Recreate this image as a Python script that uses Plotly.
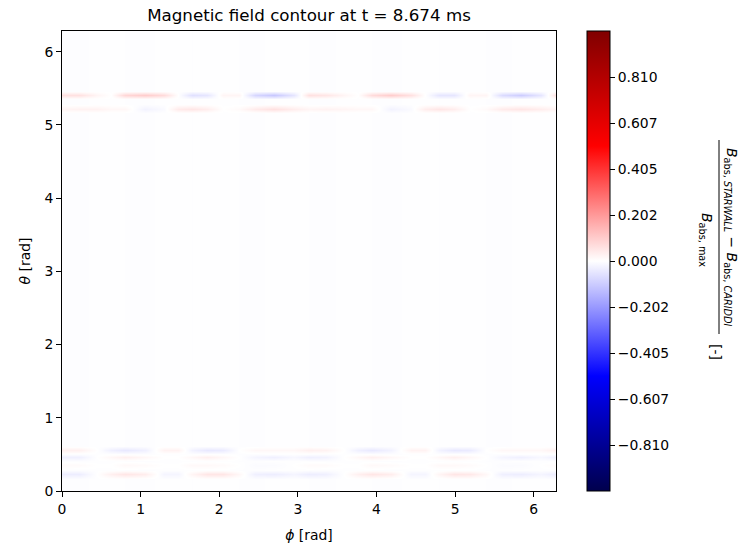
import plotly.graph_objects as go

# --- data ---
phi = [0.00, 0.22, 0.45, 0.62, 0.80, 1.05, 1.30, 1.48, 1.65, 1.85,
       2.05, 2.25, 2.45, 2.70, 2.95, 3.14, 3.36, 3.59, 3.76, 3.94,
       4.19, 4.44, 4.62, 4.79, 4.99, 5.19, 5.39, 5.59, 5.84, 6.09, 6.28]

bg = [-0.003, -0.004, -0.002, -0.002, -0.003, -0.004, -0.002, -0.002, -0.003, -0.002,
      -0.002, -0.003, -0.004, -0.002, -0.002, -0.003, -0.004, -0.002, -0.002, -0.003,
      -0.004, -0.002, -0.002, -0.003, -0.002, -0.002, -0.003, -0.004, -0.002, -0.002, -0.003]

band_541 = [0.06, 0.06, 0.02, 0.00, 0.08, 0.10, 0.07, 0.00, -0.06, -0.05,
            0.02, 0.02, -0.08, -0.11, -0.05, 0.06, 0.05, 0.02, 0.00, 0.07,
            0.10, 0.06, 0.00, -0.05, -0.05, 0.02, 0.02, -0.07, -0.10, -0.05, 0.06]

band_522 = [0.02, 0.025, 0.025, 0.015, 0.015, -0.025, -0.01, 0.04, 0.05, 0.035,
            0.00, 0.01, 0.04, 0.06, 0.035, 0.02, 0.025, 0.02, 0.015, 0.015,
            -0.025, -0.01, 0.035, 0.05, 0.035, 0.00, 0.01, 0.04, 0.05, 0.035, 0.02]

band_056 = [0.03, 0.03, 0.00, -0.03, -0.045, -0.03, 0.025, 0.025, -0.025, -0.045,
            -0.04, 0.00, 0.015, 0.015, 0.015, 0.03, 0.025, 0.00, -0.03, -0.045,
            -0.025, 0.025, 0.025, -0.025, -0.045, -0.04, 0.00, 0.015, 0.015, 0.015, 0.03]

band_046 = [-0.03, -0.03, 0.00, 0.015, 0.03, 0.015, 0.00, 0.00, 0.015, 0.03,
            0.015, 0.00, -0.02, -0.03, -0.015, -0.03, -0.025, 0.00, 0.015, 0.03,
            0.015, 0.00, 0.00, 0.015, 0.03, 0.015, 0.00, -0.02, -0.03, -0.015, -0.03]

band_036 = [0.008, 0.008, 0.00, 0.00, 0.012, 0.008, 0.00, 0.00, 0.012, 0.012,
            0.008, 0.00, -0.008, -0.008, 0.00, 0.008, 0.008, 0.00, 0.00, 0.012,
            0.008, 0.00, 0.00, 0.012, 0.012, 0.008, 0.00, -0.008, -0.008, 0.00, 0.008]

band_023 = [-0.035, -0.035, 0.00, 0.03, 0.05, 0.035, -0.02, -0.02, 0.02, 0.05,
            0.05, 0.015, -0.03, -0.035, -0.02, -0.035, -0.03, 0.00, 0.03, 0.05,
            0.035, -0.02, -0.02, 0.02, 0.05, 0.045, 0.015, -0.03, -0.035, -0.02, -0.035]

theta = [0.00, 0.17, 0.23, 0.29, 0.36, 0.41, 0.46, 0.51, 0.56, 0.62,
         1.20, 3.10, 5.05, 5.16, 5.22, 5.28, 5.35, 5.41, 5.47, 5.60, 6.28]
rows = [bg, bg, band_023, bg, band_036, bg, band_046, bg, band_056, bg,
        bg, bg, bg, bg, band_522, bg, bg, band_541, bg, bg, bg]

cbar_ticks = [-0.81, -0.6075, -0.405, -0.2025, 0.0, 0.2025, 0.405, 0.6075, 0.81]
cbar_text = ["−0.810", "−0.607", "−0.405", "−0.202", "0.000", "0.202", "0.405", "0.607", "0.810"]
xticks = [0, 1, 2, 3, 4, 5, 6]
yticks = [0, 1, 2, 3, 4, 5, 6]
ZMAX = 1.0125
TWO_PI = 6.283185307

seismic = [[0.0, "rgb(0,0,77)"], [0.25, "rgb(0,0,255)"], [0.5, "rgb(255,255,255)"],
           [0.75, "rgb(255,0,0)"], [1.0, "rgb(128,0,0)"]]

FONT = "DejaVu Sans"
W, H = 741, 554
L, R, T, B = 62, 185, 31, 63
pw, ph = W - L - R, H - T - B

def px(x):
    return (x - L) / pw

def py(y):
    return (H - B - y) / ph

fig = go.Figure(go.Heatmap(
    x=phi, y=theta, z=rows, zsmooth="best",
    colorscale=seismic, zmin=-ZMAX, zmax=ZMAX,
    colorbar=dict(
        x=px(587), xanchor="left", y=0.5, yanchor="middle",
        len=1.0, lenmode="fraction", thickness=23, thicknessmode="pixels",
        xpad=0, ypad=0, outlinewidth=1, outlinecolor="black",
        tickvals=cbar_ticks, ticktext=cbar_text, ticks="outside", ticklen=5,
        tickwidth=1, tickcolor="black",
        tickfont=dict(family=FONT, size=13.9, color="black"),
    ),
    hoverinfo="skip",
))

axis_common = dict(
    showline=True, linecolor="black", linewidth=1, mirror=True,
    ticks="outside", ticklen=5, tickwidth=1, tickcolor="black",
    showgrid=False, zeroline=False,
    tickfont=dict(family=FONT, size=13.9, color="black"),
)

fig.update_xaxes(range=[0, TWO_PI], tickvals=xticks, **axis_common,
                 title=dict(text="<i>ϕ</i> [rad]", font=dict(family=FONT, size=13.9, color="black"), standoff=14))
fig.update_yaxes(range=[0, TWO_PI], tickvals=yticks, **axis_common,
                 title=dict(text="<i>θ</i> [rad]", font=dict(family=FONT, size=13.9, color="black"), standoff=10))

lab_font = dict(family=FONT, size=13.9, color="black")
annotations = [
    dict(text="<i>B</i><sub>abs, <i>STARWALL</i></sub> − <i>B</i><sub>abs, <i>CARIDDI</i></sub>",
         x=px(731), y=py(237), xref="paper", yref="paper", textangle=90,
         showarrow=False, font=lab_font, xanchor="center", yanchor="middle"),
    dict(text="<i>B</i><sub>abs, max</sub>",
         x=px(706), y=py(240), xref="paper", yref="paper", textangle=90,
         showarrow=False, font=lab_font, xanchor="center", yanchor="middle"),
    dict(text="[-]",
         x=px(716), y=py(352), xref="paper", yref="paper", textangle=90,
         showarrow=False, font=lab_font, xanchor="center", yanchor="middle"),
]

fig.update_layout(
    width=W, height=H,
    margin=dict(l=L, r=R, t=T, b=B, autoexpand=False),
    paper_bgcolor="white", plot_bgcolor="white",
    font=dict(family=FONT, color="black"),
    title=dict(text="Magnetic field contour at t = 8.674 ms", x=0.5, xref="paper",
               y=1 - 15 / H, yref="container", xanchor="center", yanchor="middle",
               font=dict(family=FONT, size=16.7, color="black")),
    annotations=annotations,
    shapes=[dict(type="line", xref="paper", yref="paper",
                 x0=px(719), x1=px(719), y0=py(140), y1=py(334),
                 line=dict(color="black", width=1))],
)

fig.write_html("out.html")
